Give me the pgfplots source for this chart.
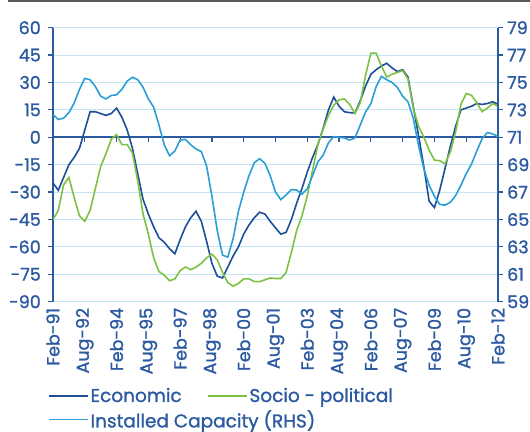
\documentclass[border=0pt]{standalone}
\usepackage{fontspec}
\setmainfont{Poppins}[FakeBold=1.2]
\usepackage{pgfplots}
\pgfplotsset{compat=1.18}
\definecolor{axblue}{HTML}{2C5AA0}
\definecolor{econ}{HTML}{1F4E99}
\definecolor{socio}{HTML}{7DC142}
\definecolor{capc}{HTML}{2A9FD6}
\definecolor{gridc}{HTML}{C3E6F6}
\definecolor{topgray}{HTML}{5A5A5A}
\newcommand{\lblfont}{\fontsize{17.5bp}{20bp}\selectfont}
\newcommand{\legfont}{\fontsize{18.5bp}{20bp}\selectfont}
\begin{document}
\begin{tikzpicture}
\path[use as bounding box] (0bp,0bp) rectangle (530bp,432bp);
\draw[topgray, line width=2.5bp] (8bp,431bp) -- (530bp,431bp);
\pgfplotsset{
  common/.style={
    at={(53bp,130.3bp)}, anchor=south west,
    scale only axis, width=445bp, height=274bp,
    xmin=0, xmax=252,
    tick align=outside, major tick length=5bp,
    tick style={axblue, line width=1.2bp},
    axis line style={axblue, line width=2.2bp},
    ticklabel style={font=\lblfont, text=axblue},
    /pgf/number format/assume math mode=true,
    legend style={draw=none, fill=none, font=\legfont, text=axblue, inner sep=0pt,
      nodes={inner xsep=1.5bp, inner ysep=0bp}, anchor=west, /tikz/every even column/.append style={column sep=24bp}},
    legend image code/.code={\draw[#1, line width=1.8bp] (0bp,0bp) -- (39bp,0bp);},
  }
}
\begin{axis}[common,
  axis y line*=left, axis x line*=bottom,
  x axis line style={draw=none},
  ymin=-90, ymax=60, ytick={-90,-75,...,60},
  ymajorgrids, grid style={gridc, line width=1bp},
  xtick={0,18,...,252},
  xticklabels={Feb-91,Aug-92,Feb-94,Aug-95,Feb-97,Aug-98,Feb-00,Aug-01,Feb-03,Aug-04,Feb-06,Aug-07,Feb-09,Aug-10,Feb-12},
  xtick style={draw=none},
  xticklabel style={rotate=90, anchor=east, inner sep=0pt, xshift=-1bp, yshift=0bp},
  yticklabel style={anchor=east, inner sep=0pt, xshift=-7bp},
  legend columns=2,
  legend style={at={(axis description cs:-0.011,-0.343)}},
]
\draw[axblue, line width=2.2bp] (axis cs:0,0) -- (axis cs:252,0);
\pgfplotsinvokeforeach{18,36,54,72,90,108,126,144,162,180,198,216,234}{
  \draw[axblue, line width=1.2bp] (axis cs:#1,0) -- ++(0bp,-5bp);
}
\addplot[econ, line width=1.6bp] coordinates {
(0,-25) (3,-29) (6,-22) (9,-15) (12,-11) (15,-6) (18,4) (21,14) (24,14) (27,13)
(30,12) (33,13) (36,16) (39,11) (42,4) (45,-6) (48,-20) (51,-34) (54,-42) (57,-49)
(60,-55) (63,-57.5) (66,-61) (69,-63.8) (72,-56) (75,-49) (78,-44) (81,-40.5) (84,-46) (87,-57)
(90,-69) (93,-76) (96,-77) (99,-71) (102,-65) (105,-60) (108,-53) (111,-48) (114,-44) (117,-41)
(120,-42) (123,-46) (126,-49.6) (129,-53) (132,-52) (135,-45) (138,-36) (141,-28) (144,-19) (147,-11)
(150,-4) (153,5) (156,15) (159,22) (162,17) (165,14) (168,13.5) (171,13.3) (174,20) (177,28)
(180,34.5) (183,37) (186,39) (189,40.5) (192,38) (195,36) (198,37) (201,33) (204,17) (207,1)
(210,-16) (213,-35) (216,-38.5) (219,-29) (222,-17) (225,-5) (228,6) (231,15) (234,16) (237,17)
(240,18.5) (243,18) (246,18.5) (249,19.5) (252,18)
};
\addlegendentry{Economic}
\addplot[socio, line width=1.6bp] coordinates {
(0,-45) (3,-40) (6,-26) (9,-22) (12,-33) (15,-43) (18,-46) (21,-40) (24,-28) (27,-16)
(30,-9) (33,-1) (36,1.5) (39,-4) (42,-4) (45,-8.6) (48,-24) (51,-42) (54,-53) (57,-66)
(60,-73.5) (63,-75.5) (66,-78.5) (69,-77.5) (72,-73) (75,-71) (78,-72.5) (81,-71) (84,-69) (87,-66)
(90,-64) (93,-67) (96,-74) (99,-79.5) (102,-81.5) (105,-80) (108,-77.5) (111,-77.5) (114,-79) (117,-79)
(120,-78) (123,-77) (126,-77.3) (129,-77.3) (132,-74) (135,-63) (138,-51) (141,-43) (144,-32) (147,-18)
(150,-4) (153,4.5) (156,12) (159,17.5) (162,20.5) (165,21) (168,18) (171,13) (174,19) (177,34)
(180,46) (183,46) (186,39) (189,33) (192,34.5) (195,35.5) (198,36.5) (201,32) (204,16) (207,6)
(210,0) (213,-7) (216,-12.5) (219,-12.8) (222,-14.5) (225,-8) (228,3) (231,18) (234,24) (237,23)
(240,19) (243,14) (246,16) (249,18.5) (252,17)
};
\addlegendentry{Socio - political}
\end{axis}
\begin{axis}[common,
  axis y line*=right, axis x line=none,
  ymin=59, ymax=79, ytick={59,61,...,79},
  yticklabel style={anchor=west, inner sep=0pt, xshift=4bp},
  legend style={at={(axis description cs:-0.011,-0.430)}},
]
\addplot[capc, line width=1.6bp] coordinates {
(0,72.66) (3,72.3) (6,72.4) (9,72.8) (12,73.5) (15,74.5) (18,75.3) (21,75.2) (24,74.7) (27,74.0)
(30,73.8) (33,74.05) (36,74.1) (39,74.5) (42,75.1) (45,75.38) (48,75.2) (51,74.65) (54,73.8) (57,73.2)
(60,71.9) (63,70.45) (66,69.65) (69,70.0) (72,70.8) (75,70.85) (78,70.45) (81,70.15) (84,69.95) (87,68.9)
(90,66.7) (93,64.2) (96,62.4) (99,62.25) (102,63.6) (105,65.6) (108,67.0) (111,68.2) (114,69.15) (117,69.44)
(120,69.1) (123,68.2) (126,67.0) (129,66.45) (132,66.8) (135,67.18) (138,67.15) (141,66.85) (144,67.25) (147,68.2)
(150,69.2) (153,69.7) (156,70.6) (159,71.05) (162,71.0) (165,70.95) (168,70.8) (171,70.95) (174,71.9) (177,72.85)
(180,73.45) (183,74.7) (186,75.45) (189,75.2) (192,75.0) (195,74.65) (198,74.0) (201,73.6) (204,72.4) (207,70.4)
(210,68.7) (213,67.5) (216,66.7) (219,66.1) (222,66.05) (225,66.25) (228,66.75) (231,67.5) (234,68.35) (237,69.05)
(240,70.0) (243,70.9) (246,71.35) (249,71.25) (252,71.05)
};
\addlegendentry{Installed Capacity (RHS)}
\end{axis}
\end{tikzpicture}
\end{document}
